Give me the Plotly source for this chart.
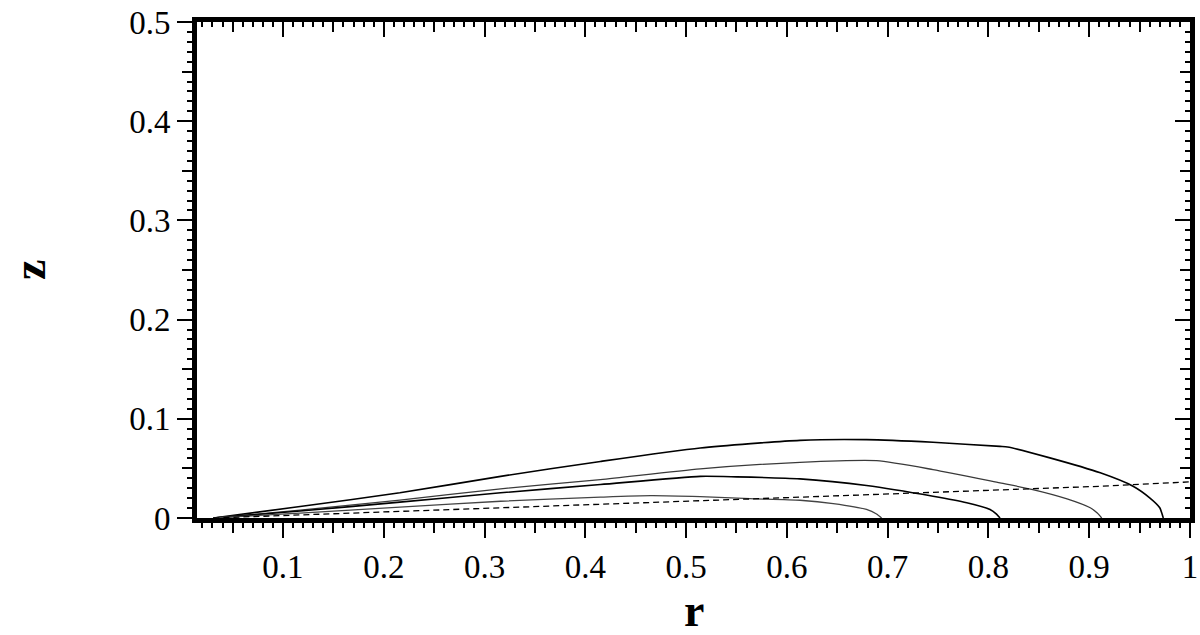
import plotly.graph_objects as go

# ---- data ----
r_a = [0.031, 0.117, 0.216, 0.316, 0.415, 0.514, 0.613, 0.679, 0.745, 0.8115, 0.819, 0.861, 0.911, 0.9435, 0.960, 0.970, 0.972, 0.9735]
z_a = [0.0, 0.0116, 0.0254, 0.042, 0.057, 0.0706, 0.0783, 0.079, 0.0763, 0.0722, 0.0716, 0.0606, 0.0455, 0.032, 0.0203, 0.0103, 0.005, 0.0]

r_b = [0.031, 0.117, 0.216, 0.316, 0.415, 0.514, 0.613, 0.689, 0.745, 0.8115, 0.844, 0.878, 0.901, 0.908, 0.9124]
z_b = [0.0, 0.008, 0.018, 0.0294, 0.0387, 0.0495, 0.0561, 0.0578, 0.0488, 0.0354, 0.0287, 0.0193, 0.0103, 0.005, 0.0]

r_c = [0.031, 0.117, 0.216, 0.316, 0.415, 0.514, 0.55, 0.613, 0.679, 0.745, 0.7785, 0.8016, 0.808, 0.8115]
z_c = [0.0, 0.007, 0.016, 0.0254, 0.0337, 0.042, 0.0415, 0.0394, 0.0327, 0.0219, 0.0153, 0.0086, 0.004, 0.0]

r_d = [0.031, 0.117, 0.216, 0.316, 0.415, 0.465, 0.514, 0.5635, 0.613, 0.646, 0.679, 0.689, 0.694]
z_d = [0.0, 0.005, 0.011, 0.0169, 0.021, 0.0225, 0.0215, 0.0195, 0.0179, 0.0146, 0.0086, 0.004, 0.0]

r_dash = [0.031, 0.316, 0.613, 0.911, 1.0]
z_dash = [0.0, 0.0100, 0.021, 0.032, 0.0364]

x_major = [0.1, 0.2, 0.3, 0.4, 0.5, 0.6, 0.7, 0.8, 0.9, 1.0]
x_labels = ["0.1", "0.2", "0.3", "0.4", "0.5", "0.6", "0.7", "0.8", "0.9", "1"]
x_mid = [0.05, 0.15, 0.25, 0.35, 0.45, 0.55, 0.65, 0.75, 0.85, 0.95]
y_major = [0.0, 0.1, 0.2, 0.3, 0.4, 0.5]
y_labels = ["0", "0.1", "0.2", "0.3", "0.4", "0.5"]
y_mid = [0.05, 0.15, 0.25, 0.35, 0.45]

x_title = "r"
y_title = "z"

x_range = [0.0147, 1.0]
y_range = [0.0, 0.5]

fig = go.Figure()
for xs, ys, col, w in [(r_a, z_a, "#000000", 1.6), (r_b, z_b, "#3a3a3a", 1.3),
                       (r_c, z_c, "#000000", 1.6), (r_d, z_d, "#444444", 1.3)]:
    fig.add_trace(go.Scatter(x=xs, y=ys, mode="lines",
                             line=dict(color=col, width=w, shape="spline", smoothing=0.6),
                             showlegend=False, hoverinfo="skip"))
fig.add_trace(go.Scatter(x=r_dash, y=z_dash, mode="lines",
                         line=dict(color="#000000", width=1.3, dash="6px,4px"),
                         showlegend=False, hoverinfo="skip"))

# empty traces so the extra tick axes exist
for xa, ya in [("x2", "y"), ("x3", "y"), ("x4", "y"), ("x", "y2"), ("x", "y3"), ("x", "y4")]:
    fig.add_trace(go.Scatter(x=[None], y=[None], xaxis=xa, yaxis=ya, mode="lines",
                             showlegend=False, hoverinfo="skip"))

SERIF = "Liberation Serif, Times New Roman, serif"
tickfont = dict(family=SERIF, size=33, color="black")
LONG, MID, SHORT, TW, LW = 15, 10, 5, 2, 5

common = dict(showgrid=False, zeroline=False, automargin=False,
              showline=True, linewidth=LW, linecolor="black", tickcolor="black", tickwidth=TW)


def minor(direction):
    return dict(tickmode="linear", tick0=0, dtick=0.01, ticks=direction,
                ticklen=SHORT, tickwidth=TW, tickcolor="black", showgrid=False)


fig.update_layout(
    width=1200, height=635,
    margin=dict(l=197, r=10, t=22, b=117),
    plot_bgcolor="white", paper_bgcolor="white",
    xaxis=dict(range=x_range, tickmode="array", tickvals=x_major, ticktext=x_labels,
               ticks="outside", ticklen=LONG, minor=minor("outside"), mirror=True,
               tickfont=tickfont, **common),
    xaxis2=dict(range=x_range, overlaying="x", side="bottom", anchor="y",
                tickmode="array", tickvals=x_mid, ticks="outside", ticklen=MID,
                showticklabels=False, **common),
    xaxis3=dict(range=x_range, overlaying="x", side="top", anchor="y",
                tickmode="array", tickvals=x_major, ticks="inside", ticklen=LONG,
                minor=minor("inside"), showticklabels=False, **common),
    xaxis4=dict(range=x_range, overlaying="x", side="top", anchor="y",
                tickmode="array", tickvals=x_mid, ticks="inside", ticklen=MID,
                showticklabels=False, **common),
    yaxis=dict(range=y_range, tickmode="array", tickvals=y_major, ticktext=y_labels,
               ticks="outside", ticklen=LONG, minor=minor("outside"), mirror=True,
               tickfont=tickfont, **common),
    yaxis2=dict(range=y_range, overlaying="y", side="left", anchor="x",
                tickmode="array", tickvals=y_mid, ticks="outside", ticklen=MID,
                showticklabels=False, **common),
    yaxis3=dict(range=y_range, overlaying="y", side="right", anchor="x",
                tickmode="array", tickvals=y_major, ticks="inside", ticklen=LONG,
                minor=minor("inside"), showticklabels=False, **common),
    yaxis4=dict(range=y_range, overlaying="y", side="right", anchor="x",
                tickmode="array", tickvals=y_mid, ticks="inside", ticklen=MID,
                showticklabels=False, **common),
    annotations=[
        dict(text="<b>%s</b>" % x_title, xref="paper", yref="paper", x=0.5, y=0,
             xanchor="center", yanchor="middle", yshift=-92, showarrow=False,
             font=dict(family=SERIF, size=46, color="black")),
        dict(text="<b>%s</b>" % y_title, xref="paper", yref="paper", x=0, y=0.5,
             xanchor="center", yanchor="middle", xshift=-168, textangle=-90, showarrow=False,
             font=dict(family=SERIF, size=46, color="black")),
    ],
)

fig.write_html("out.html", config={"displayModeBar": False},
               post_script="document.body.style.margin='0';")
